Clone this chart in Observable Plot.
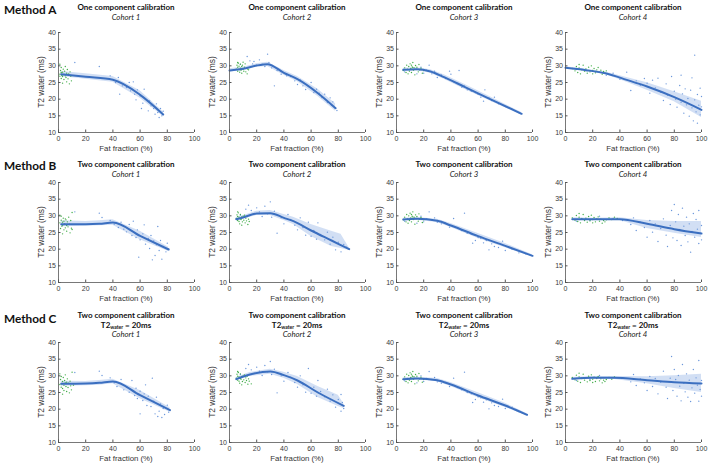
<!DOCTYPE html>
<html><head><meta charset="utf-8">
<script src="https://cdn.jsdelivr.net/npm/d3@7"></script>
<script src="https://cdn.jsdelivr.net/npm/@observablehq/plot@0.6"></script>
<style>
body{margin:0;background:#fff;}
#wrap{position:relative;width:709px;height:465px;background:#fff;overflow:hidden;font-family:"Liberation Sans",Arial,sans-serif;}
.panel{position:absolute;}
.t{position:absolute;transform:translate(-50%,-50%);white-space:nowrap;color:#111;font-family:Lato,"Open Sans",sans-serif;}
.t1{font-weight:bold;font-size:8px;}
.t2{font-style:italic;font-size:7.8px;color:#222;}
.xl{position:absolute;transform:translate(-50%,-50%);white-space:nowrap;color:#333;font-family:"Liberation Sans",Arial,sans-serif;font-size:7.8px;}
.m{position:absolute;font-family:Lato,"Open Sans",sans-serif;font-weight:bold;font-size:11.8px;color:#111;transform:translateY(-50%);}
sub{font-size:5px;vertical-align:-1.5px;}
</style></head><body><div id="wrap"></div>
<script>
// ---- data (x = fat fraction %, y = T2 water ms) ----
const xTicks = [0, 20, 40, 60, 80, 100];
const yTicks = [10, 15, 20, 25, 30, 35, 40];
const methods = ["Method A", "Method B", "Method C"];
const rowTitles = ["One component calibration", "Two component calibration", "Two component calibration"];
const cohorts = ["Cohort 1", "Cohort 2", "Cohort 3", "Cohort 4"];
const xLabel = "Fat fraction (%)";
const yLabel = "T2 water (ms)";

// trend lines [x, y]
const lineA1 = [[2,27.5],[20,26.7],[40,25.8],[60,21.3],[77,15.4]];
const lineA2 = [[0,28.6],[10,29.1],[20,30.1],[28,30.5],[40,27.9],[50,26.0],[65,21.8],[78,17.3]];
const lineA3 = [[5,28.8],[15,29],[25,28.3],[35,26.6],[50,23.7],[70,19.8],[92,15.6]];
const lineA4 = [[0,29.4],[15,28.7],[30,27.7],[45,25.8],[60,23.8],[80,20.6],[100,16.8]];
const lineB1 = [[2,27.5],[20,27.5],[30,27.6],[40,28],[60,24],[81,19.9]];
const lineB2 = [[5,29],[10,29.5],[20,30.7],[30,30.8],[40,29.4],[47,28.4],[60,25.6],[75,22.6],[88,20]];
const lineB3 = [[5,28.9],[15,29.1],[30,28.5],[40,27.1],[60,23.9],[80,21],[100,18]];
const lineB4 = [[5,29],[20,29],[40,29],[60,27.6],[80,26],[100,24.7]];
const lineC1 = [[2,27.6],[20,27.7],[30,27.9],[40,28.3],[60,24.2],[82,19.7]];
const lineC2 = [[5,29],[15,30.4],[30,31.3],[40,30.2],[50,28.6],[65,25],[84,21]];
const lineC3 = [[5,29],[15,29.2],[30,28.7],[40,27.4],[60,24.1],[80,21.1],[96,18.3]];
const lineC4 = [[5,29.1],[20,29.4],[35,29.4],[60,28.7],[80,28.1],[100,27.7]];

// confidence bands [x, low, high]
const bandA1 = [[2,26.8,28.3],[20,26.0,27.6],[40,25.1,26.8],[60,20.3,22.5],[77,14.8,16.2]];
const bandA2 = [[0,28.1,29.1],[10,28.7,29.6],[20,29.6,30.6],[28,29.8,31.1],[40,27.2,28.6],[50,25.2,26.8],[65,20.8,23],[78,16.4,18.6]];
const bandA3 = [[5,28.3,29.3],[15,28.6,29.4],[25,27.8,28.8],[35,26,27.3],[50,23,24.5],[70,19.2,20.5],[92,15.2,16]];
const bandA4 = [[0,29.1,29.7],[15,28.4,29],[30,27.3,28.1],[45,25.1,26.5],[60,22.7,24.9],[80,19.2,22.2],[100,14.5,19.4]];
const bandB1 = [[2,26.7,28.5],[20,26.9,28.3],[30,27,28.5],[40,27.2,28.8],[60,22.8,25.4],[81,19.3,20.6]];
const bandB2 = [[5,28.5,29.5],[10,29,30],[20,30.1,31.4],[30,30.1,31.6],[40,28.6,30.4],[47,27.4,29.6],[60,23.8,27.4],[75,20.8,25.4],[82,20.2,24.5],[88,19.6,20.4]];
const bandB3 = [[5,28.5,29.3],[15,28.7,29.5],[30,28,29],[40,26.5,27.7],[60,23.2,24.7],[80,20.4,21.7],[100,17.7,18.3]];
const bandB4 = [[5,28.6,29.4],[20,28.7,29.3],[40,28.6,29.4],[60,26.2,28.6],[80,24.8,28.3],[100,23.5,28.3]];
const bandC1 = [[2,26.9,28.4],[20,27,28.3],[30,27.2,28.6],[40,27.6,29],[60,23.1,25.6],[82,19.1,20.4]];
const bandC2 = [[5,28.5,29.5],[15,29.8,31],[30,30.5,32],[40,29.3,31.1],[50,27.4,29.8],[65,23.5,26.8],[80,20.8,24.2],[84,20.2,21.6]];
const bandC3 = [[5,28.6,29.4],[15,28.8,29.6],[30,28.2,29.2],[40,26.8,28],[60,23.4,24.9],[80,20.5,21.8],[96,18,18.6]];
const bandC4 = [[5,28.7,29.5],[20,29,29.8],[35,29,29.8],[60,27.6,29.7],[80,26.2,30],[100,25,30.5]];

// green (reference) points
const greenA1 = [[1,27.5],[1.5,28.6],[2,26.2],[2,29.5],[2.5,27.1],[3,28.1],[3,26.8],[3.5,29],[4,27.4],[4,25.9],[4.5,28.4],[5,27],[5,29.8],[5.5,26.5],[6,27.8],[6,25.2],[6.5,28.9],[7,26.1],[7.5,27.6],[8,24.6],[8.5,28.2],[9,26.9],[9.5,25.5],[1,30.5],[3,24.8],[2,28],[1,26.9]];
const greenA2 = [[5,29],[5.5,30.2],[6,28.4],[6,29.6],[6.5,30.8],[7,28.9],[7,29.9],[7.5,28.1],[8,29.3],[8,30.5],[8.5,28.7],[9,29.8],[9,27.8],[9.5,30.2],[10,29],[10.5,28.4],[11,29.6],[11.5,30.6],[12,28.2],[12.5,29.4],[13,27.6],[13.5,29],[14,28.8],[6,31],[10,31.1]];
const greenA3 = [[5,28.6],[6,29.4],[7,28],[7.5,30.2],[8,29],[8.5,27.6],[9,29.8],[9.5,28.4],[10,30.6],[10.5,29.2],[11,28],[11.5,29.7],[12,31],[12.5,28.7],[13,29.4],[13.5,27.3],[14,30.1],[14.5,28.9],[15,29.6],[16,28.2],[16.5,30.4],[17,28.8],[18,29.3],[19,27.8],[20,28.6],[11,30.2],[12,29.5]];
const greenA4 = [[5,29.2],[7,28.5],[8,29.8],[9,28],[10,29.4],[11,27.6],[12,28.8],[13,30.2],[14,28.4],[15,29.1],[16,27.8],[17,29.6],[18,28.2],[19,30],[20,28.6],[21,29.2],[22,27.9],[23,28.8],[24,29.5],[25,28.1],[26,28.7],[27,27.5],[28,28.3],[29,27.9],[30,28.5],[10,30.4],[20,27.6]];
const greenB1 = [[1,27.9],[1.5,26.2],[2,28.7],[2,29.9],[2.5,26.9],[3,28.1],[3,27.2],[3.5,29.3],[4,25.8],[4,28.4],[4.5,27.6],[5,29.1],[5,26.4],[5.5,28.8],[6,27.1],[6,25.4],[6.5,28.2],[7,26.7],[7.5,29.6],[8,27.5],[8.5,24.9],[9,28.6],[9.5,26.3],[10,31],[1,30.2],[3,24.6],[10,25.9]];
const greenB2 = [[5,29.2],[5.5,30.3],[6,28.6],[6,29.8],[6.5,30.9],[7,28.3],[7,29.6],[7.5,27.6],[8,29.1],[8,30.4],[8.5,28.9],[9,29.7],[9.5,28.2],[10,29.9],[10.5,28.7],[11,30.2],[11.5,27.9],[12,29.3],[12.5,28.5],[13,29.8],[13.5,27.4],[14,29],[14.5,28.3],[6,31.2],[9,27.2]];
const greenB3 = [[5,28.8],[6,29.6],[7,28.2],[7.5,30.4],[8,29.1],[8.5,27.8],[9,30],[9.5,28.6],[10,30.8],[10.5,29.4],[11,28.2],[11.5,29.9],[12,31.2],[12.5,28.9],[13,29.6],[13.5,27.5],[14,30.3],[14.5,29.1],[15,29.8],[16,28.4],[16.5,30.6],[17,29],[18,29.5],[19,28],[20,28.8],[11,30.4],[12,29.7]];
const greenB4 = [[5,29.4],[7,28.7],[8,30.1],[9,28.3],[10,29.6],[11,27.9],[12,29.1],[13,30.4],[14,28.6],[15,29.3],[16,28.1],[17,29.8],[18,28.5],[19,30.2],[20,28.9],[21,29.5],[22,28.2],[23,29.1],[24,29.7],[25,28.4],[26,29],[27,27.8],[28,28.6],[29,28.2],[30,28.8],[10,30.7],[20,27.9],[32,29.4],[34,28.9],[36,29.6],[38,29.2]];
const greenC1 = [[1,27.4],[1.5,28.9],[2,26.6],[2,29.8],[2.5,27.6],[3,28.3],[3,26.2],[3.5,29.5],[4,27.2],[4,25.6],[4.5,28.6],[5,27.9],[5,30.3],[5.5,26.8],[6,28.1],[6,25.3],[6.5,29.1],[7,26.5],[7.5,27.8],[8,24.9],[8.5,28.4],[9,27],[9.5,25.8],[10,31.1],[1,30.6],[3,24.5],[11,27.2]];
const greenC2 = [[5,29.3],[5.5,30.5],[6,28.7],[6,29.9],[6.5,31],[7,28.4],[7,29.7],[7.5,27.8],[8,29.2],[8,30.6],[8.5,29],[9,29.8],[9.5,28.3],[10,30],[10.5,28.8],[11,30.3],[11.5,28],[12,29.4],[12.5,28.6],[13,29.9],[13.5,27.5],[14,29.1],[14.5,28.4],[6,31.3],[9,27.3],[16,27.6]];
const greenC3 = [[5,28.9],[6,29.7],[7,28.3],[7.5,30.5],[8,29.2],[8.5,27.9],[9,30.1],[9.5,28.7],[10,30.9],[10.5,29.5],[11,28.3],[11.5,30],[12,31.3],[12.5,29],[13,29.7],[13.5,27.6],[14,30.4],[14.5,29.2],[15,29.9],[16,28.5],[16.5,30.7],[17,29.1],[18,29.6],[19,28.1],[20,28.9],[11,30.5],[12,29.8]];
const greenC4 = [[5,29.5],[7,28.8],[8,30.2],[9,28.4],[10,29.7],[11,28],[12,29.2],[13,30.5],[14,28.7],[15,29.4],[16,28.2],[17,29.9],[18,28.6],[19,30.3],[20,29],[21,29.6],[22,28.3],[23,29.2],[24,29.8],[25,28.5],[26,29.1],[27,27.9],[28,28.7],[29,28.3],[30,28.9],[10,30.8],[20,28],[32,29.5],[34,29],[36,29.7]];

// blue (patient) points
const blueA1 = [[12,31],[30,29.8],[38,27],[42,25],[44,26.5],[47,24],[50,23.5],[52,25],[53,22.5],[55,25.2],[56,21.5],[57,19.8],[58,22.8],[60,21],[62,18.8],[63,23],[64,20],[66,16.5],[67,19.5],[68,18],[70,17.2],[71,15.5],[72,18.6],[73,16],[74,14.5],[75,17.2],[76,15],[77,16.4],[45,21.5],[61,17.2]];
const blueA2 = [[8,30.5],[13,32.8],[15,31.5],[17,30.6],[18,31.3],[20,30.2],[22,31.8],[24,30.5],[26,29.8],[28,33.5],[29,31],[30,30.2],[31,29.4],[33,24],[35,28.6],[38,27.5],[42,27],[45,26.8],[48,25.5],[50,24.4],[52,25.8],[54,24],[56,22.9],[58,23.8],[60,25],[62,22],[64,23],[66,21.8],[68,20.5],[70,21.5],[72,19],[74,20.4],[75,18.2],[76,19.2],[78,17.3],[79,16.6]];
const blueA3 = [[6,28.2],[15,27.6],[18,29.6],[20,27.8],[22,28.7],[24,30.2],[26,27.6],[28,28.4],[30,26.5],[33,27.3],[36,26.2],[39,28.4],[40,27.5],[42,25.2],[45,24.8],[46,28.6],[48,23.6],[50,24],[52,22.8],[55,22.4],[58,22],[60,21.5],[62,20.6],[64,19.4],[65,22.8],[68,20.4],[70,19.6],[72,20.6],[75,18.6],[80,17.8],[85,17],[90,16]];
const blueA4 = [[8,28.9],[15,28.6],[22,28.3],[30,27.2],[35,27.8],[40,26],[45,28.1],[48,22.6],[52,25.5],[55,24.2],[58,26.2],[60,24.8],[62,21.8],[64,25.7],[66,23.4],[68,26.3],[70,22.1],[72,19.6],[74,24.6],[75,21.2],[77,18.4],[78,26.8],[80,22.4],[81,20],[82,17.6],[84,24.1],[85,19.1],[86,21.6],[87,15.8],[88,23.1],[89,18.3],[90,20.2],[91,14.9],[92,22.7],[93,17.4],[94,13.5],[95,19.8],[95,33.2],[96,16.2],[97,21.4],[97,12.8],[98,18.2],[99,15.3],[99,23.3],[100,17.7],[100,20.8],[93,26.4],[85,27.2]];
const blueB1 = [[12,31.2],[30,30.8],[32,29.5],[38,28.6],[41,27.5],[44,26.5],[46,28.1],[48,26],[50,25.2],[52,27.4],[54,24.1],[55,28.4],[57,23.5],[58,25.8],[60,22.8],[62,24.6],[63,27.3],[64,21.5],[66,23.2],[67,20.2],[68,24.1],[70,22.5],[71,18.1],[72,21.3],[73,26.8],[74,19.6],[75,22.6],[76,17],[77,20.8],[79,19.2],[80,21.8],[81,20.1],[59,17.6],[69,16.8]];
const blueB2 = [[8,30.2],[12,32],[14,33.2],[16,31.6],[18,30.4],[20,32.4],[22,31.2],[24,29.8],[26,32.9],[28,30.6],[30,34.2],[31,29.6],[33,31.4],[35,24.8],[38,29.4],[40,27.6],[43,30.4],[45,28.9],[48,27.2],[50,25.8],[52,29.4],[54,26.5],[56,24.2],[58,28.1],[60,23.9],[62,25.6],[64,23],[65,27.9],[67,24.4],[70,22.8],[72,25.1],[74,21.5],[76,23.6],[78,19.8],[80,22.1],[82,19.2],[84,21.4],[86,20.6],[88,20]];
const blueB3 = [[6,28.4],[15,27.8],[18,29.9],[20,28.2],[22,29.1],[24,31.2],[26,28.8],[28,29.4],[30,28.1],[33,27.6],[36,27.9],[39,26.6],[42,29.2],[45,26.3],[48,25.6],[50,30.8],[52,24.8],[55,24.5],[56,21.8],[58,22.6],[60,23.5],[62,23.2],[64,21.9],[66,22.6],[68,19.8],[70,21.6],[72,20.8],[75,20.5],[78,22.4],[80,19.6],[85,20],[90,18.9],[95,18.6]];
const blueB4 = [[8,28.4],[12,29.2],[18,28.6],[25,29.9],[35,29.2],[42,28.6],[48,27.4],[50,29.4],[52,25.6],[55,28.1],[58,26.5],[60,23.6],[62,28.6],[64,25.1],[66,27.6],[68,22.3],[70,26.2],[72,29.1],[74,24.2],[75,20.8],[77,27.1],[78,31.6],[79,23.4],[80,33.4],[81,28.2],[82,22.6],[83,30.4],[84,25.9],[85,21.1],[86,32.3],[87,26.9],[88,24.1],[89,29.6],[90,22.2],[91,27.6],[92,19.1],[93,25.3],[94,30.7],[95,23.6],[96,28.9],[97,26],[98,21.7],[98,31.6],[99,24.8],[100,27.1],[100,22.8]];
const blueC1 = [[12,31],[30,31.4],[32,30.1],[38,29.4],[41,27.9],[43,26.8],[46,28.9],[48,25.8],[50,26.6],[52,25.1],[54,28.6],[56,24.1],[57,26.3],[58,23.2],[60,25.4],[62,22.6],[63,24.6],[64,27.3],[65,21.1],[66,23.9],[68,20.8],[69,29.3],[70,22.4],[71,18.6],[72,23.6],[74,19.4],[75,21.6],[76,17.5],[77,20.2],[78,18.4],[80,21.2],[81,19.1],[60,18.6],[73,17.8]];
const blueC2 = [[8,30.4],[12,32.2],[14,33.4],[16,31.8],[18,30.6],[20,32.6],[22,31.4],[24,30.1],[26,33.1],[28,31.2],[30,34.3],[31,30.4],[33,32],[35,24.9],[38,30],[40,28.4],[43,31],[45,29.6],[48,28],[50,26.6],[52,30],[54,27.3],[56,25.1],[58,32.2],[60,24.8],[62,26.6],[64,23.9],[65,28.6],[67,25.3],[70,23.7],[72,26],[74,22.4],[76,24.3],[78,20.6],[80,22.9],[82,19.4],[83,22],[84,20.2],[82,24.4]];
const blueC3 = [[6,28.5],[15,27.9],[18,30],[20,28.3],[22,29.2],[24,31.3],[26,28.9],[28,29.5],[30,28.2],[33,27.8],[36,28],[39,26.8],[42,29.3],[45,26.5],[48,25.8],[50,31.1],[52,25],[55,24.6],[56,22],[58,22.9],[60,23.7],[62,23.4],[64,22.1],[66,22.8],[68,20.1],[70,21.9],[72,21.1],[75,20.8],[78,23],[80,20.2],[85,20.6],[90,19.3],[96,18.4]];
const blueC4 = [[8,28.6],[12,29.4],[18,28.9],[25,30.1],[35,29.4],[42,29.3],[48,28.2],[50,30.4],[52,27.1],[55,29.1],[58,27.9],[60,25.6],[62,29.8],[64,26.8],[66,29.2],[68,24.6],[70,28.1],[72,31.4],[74,26.6],[75,23.2],[77,29.3],[78,35.8],[79,25.6],[80,31.9],[81,28.9],[82,23.9],[83,30.1],[84,26.9],[85,22.5],[86,33.4],[87,27.8],[88,25.2],[89,30.6],[90,23.6],[91,28.7],[92,22.3],[93,26.4],[94,31.9],[95,24.8],[96,29.4],[97,27.2],[98,22.4],[98,34.6],[99,25.9],[100,28.6],[100,23.9]];

const lines = [[lineA1,lineA2,lineA3,lineA4],[lineB1,lineB2,lineB3,lineB4],[lineC1,lineC2,lineC3,lineC4]];
const bands = [[bandA1,bandA2,bandA3,bandA4],[bandB1,bandB2,bandB3,bandB4],[bandC1,bandC2,bandC3,bandC4]];
const greens = [[greenA1,greenA2,greenA3,greenA4],[greenB1,greenB2,greenB3,greenB4],[greenC1,greenC2,greenC3,greenC4]];
const blues = [[blueA1,blueA2,blueA3,blueA4],[blueB1,blueB2,blueB3,blueB4],[blueC1,blueC2,blueC3,blueC4]];

// ---- layout ----
const colX = [58, 229, 396, 565];   // pixel of x=0
const rowY = [32, 182, 342];        // pixel of y=40
const plotW = 136, plotH = 100;
const mL = 40, mR = 10, mT = 6, mB = 12;

const wrap = document.getElementById("wrap");
function addText(cls, html, x, y, extra) {
  const d = document.createElement("div");
  d.className = cls; d.innerHTML = html;
  d.style.left = x + "px"; d.style.top = y + "px";
  if (extra) d.style.transform = extra;
  wrap.appendChild(d);
}
const methodY = [9, 165, 318];
const titleY = [[7, 17], [164, 174], [315, 325, 334]];

for (let r = 0; r < 3; r++) {
  const m = document.createElement("div");
  m.className = "m"; m.textContent = methods[r];
  m.style.left = "4px"; m.style.top = methodY[r] + "px";
  wrap.appendChild(m);
  for (let c = 0; c < 4; c++) {
    const cx = colX[c] + plotW / 2;
    addText("t t1", rowTitles[r], cx, titleY[r][0]);
    if (r === 2) {
      addText("t t1", "T2<sub>water</sub> = 20ms", cx, titleY[r][1]);
      addText("t t2", cohorts[c], cx, titleY[r][2]);
    } else {
      addText("t t2", cohorts[c], cx, titleY[r][1]);
    }
    const chart = Plot.plot({
      width: mL + plotW + mR, height: mT + plotH + mB,
      marginLeft: mL, marginRight: mR, marginTop: mT, marginBottom: mB,
      style: {background: "transparent", fontFamily: "'Liberation Sans', Arial, sans-serif", fontSize: "7px", color: "#3a3a3a", overflow: "visible"},
      x: {domain: [0, 100]},
      y: {domain: [10, 40]},
      marks: [
        Plot.areaY(bands[r][c], {x: d => d[0], y1: d => d[1], y2: d => d[2], fill: "#bfd1ef", fillOpacity: 0.7}),
        Plot.dot(blues[r][c], {x: d => d[0], y: d => d[1], r: 0.7, fill: "#6b97db", stroke: null}),
        Plot.dot(greens[r][c], {x: d => d[0], y: d => d[1], r: 0.7, fill: "#42ad4a", stroke: null}),
        Plot.line(lines[r][c], {x: d => d[0], y: d => d[1], stroke: "#3b6fc0", strokeWidth: 2, curve: "monotone-x"}),
        Plot.ruleY([10], {stroke: "#555", strokeWidth: 0.8}),
        Plot.ruleX([0], {stroke: "#555", strokeWidth: 0.8}),
        Plot.axisX(xTicks, {tickSize: -2.5, tickPadding: 6, stroke: "#555", fontSize: 7, label: null}),
        Plot.axisY(yTicks, {tickSize: -2.5, tickPadding: 5, stroke: "#555", fontSize: 7, label: null})
      ]
    });
    chart.classList.add("panel");
    chart.style.left = (colX[c] - mL) + "px";
    chart.style.top = (rowY[r] - mT) + "px";
    chart.style.position = "absolute";
    wrap.appendChild(chart);
    addText("xl", xLabel, cx, rowY[r] + plotH + 16);
    const yl = document.createElement("div");
    yl.className = "xl"; yl.textContent = yLabel;
    yl.style.fontSize = "8.4px";
    yl.style.left = (colX[c] - 17) + "px"; yl.style.top = (rowY[r] + plotH / 2) + "px";
    yl.style.transform = "translate(-50%,-50%) rotate(-90deg)";
    wrap.appendChild(yl);
  }
}
</script></body></html>
